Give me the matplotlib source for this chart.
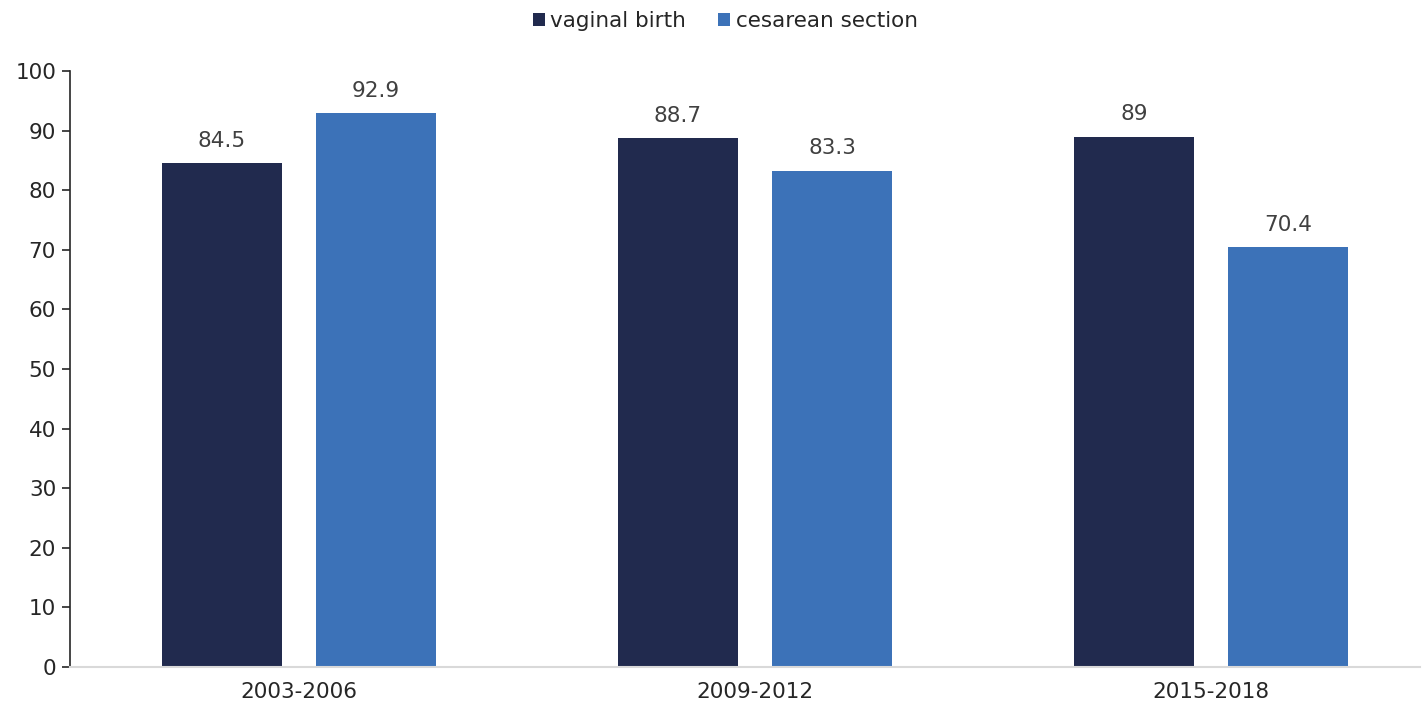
import numpy as np
import matplotlib.pyplot as plt

periods = ['2003-2006', '2009-2012', '2015-2018']
vaginal = [84.5, 88.7, 89]
cesarean = [92.9, 83.3, 70.4]
series_names = ['vaginal birth', 'cesarean section']
colors = ['#212A4E', '#3C72B8']

plt.rcParams['font.family'] = ['DejaVu Sans']
fs = 15.5

fig = plt.figure(figsize=(14.22, 7.06), dpi=100)
ax = fig.add_axes([70 / 1422, 39 / 706, 1350 / 1422, 596 / 706])

x = np.arange(len(periods))
width = 0.263
offset = 0.169

bars1 = ax.bar(x - offset, vaginal, width, color=colors[0], label=series_names[0])
bars2 = ax.bar(x + offset, cesarean, width, color=colors[1], label=series_names[1])

for bars, vals in [(bars1, vaginal), (bars2, cesarean)]:
    for b, v in zip(bars, vals):
        ax.annotate('{:g}'.format(v), (b.get_x() + b.get_width() / 2, v),
                    xytext=(0, 9), textcoords='offset points',
                    ha='center', va='bottom', fontsize=fs, color='#404040')

ax.set_xlim(-0.502, 2.458)
ax.set_ylim(0, 100)
ax.set_yticks(range(0, 101, 10))
ax.set_xticks(x)
ax.set_xticklabels(periods)

ax.spines['top'].set_visible(False)
ax.spines['right'].set_visible(False)
ax.spines['left'].set_color('#262626')
ax.spines['left'].set_linewidth(1.2)
ax.spines['bottom'].set_color('#D9D9D9')
ax.spines['bottom'].set_linewidth(1.5)
ax.tick_params(axis='y', length=6, width=1.2, color='#262626', labelsize=fs,
               labelcolor='#262626', pad=4)
ax.tick_params(axis='x', length=0, labelsize=fs, labelcolor='#262626', pad=11)

leg = fig.legend(loc='upper center', bbox_to_anchor=(0.51, 1.012), ncol=2,
                 frameon=False, fontsize=fs, handlelength=0.55, handleheight=0.55,
                 handletextpad=0.25, columnspacing=1.5)
for t in leg.get_texts():
    t.set_color('#262626')

fig.savefig('out.png', dpi=100)
